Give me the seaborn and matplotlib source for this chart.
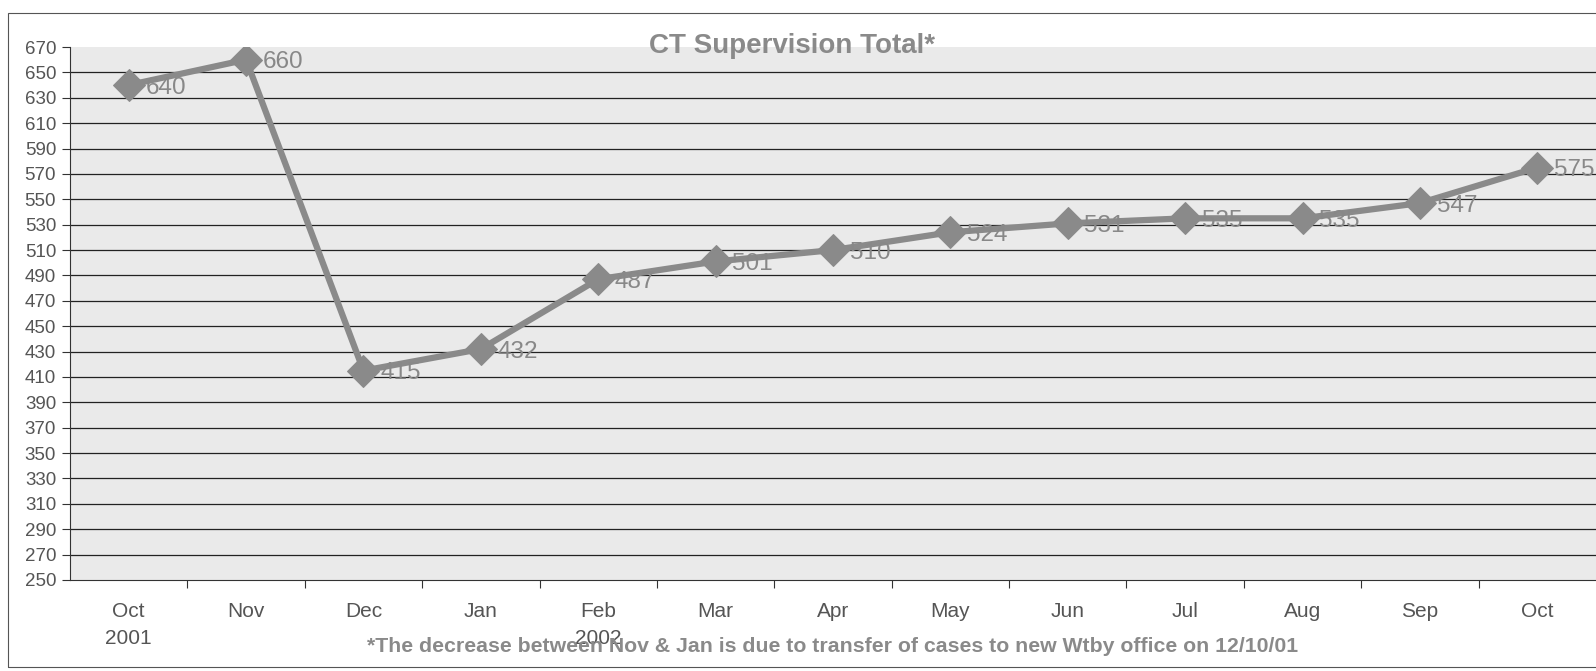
import numpy as np
import pandas as pd
import matplotlib
matplotlib.use("Agg")
import matplotlib.pyplot as plt
import seaborn as sns
from matplotlib.patches import Rectangle

months = ["Oct\n2001", "Nov", "Dec", "Jan", "Feb\n2002", "Mar", "Apr",
          "May", "Jun", "Jul", "Aug", "Sep", "Oct"]
totals = [640, 660, 415, 432, 487, 501, 510, 524, 531, 535, 535, 547, 575]
y_ticks = list(range(250, 671, 20))

title = "CT Supervision Total*"
note = ("*The decrease between Nov & Jan is due to transfer of cases "
        "to new Wtby office on 12/10/01")

df = pd.DataFrame({"pos": np.arange(len(months)), "total": totals})

sns.set_style("white")
plt.rcParams['font.family'] = ['Liberation Sans', 'DejaVu Sans']

fig = plt.figure(figsize=(15.96, 6.71), dpi=100)
ax = fig.add_axes([70 / 1596, 1 - 580 / 671, 1 - 70 / 1596, (580 - 47) / 671])
ax.set_facecolor("#eaeaea")

# thin frame around the whole chart area
fig.patches.append(Rectangle((8 / 1596, 4 / 671), 1.2, 1 - 17 / 671,
                             transform=fig.transFigure, fill=False,
                             edgecolor="#555555", linewidth=0.8))

ax.set_ylim(250, 670)
ax.set_xlim(-0.5, len(months) - 0.5)
for v in y_ticks[1:-1]:
    ax.axhline(v, color="#222222", linewidth=0.9, zorder=1)

sns.lineplot(data=df, x="pos", y="total", ax=ax, color="#8a8a8a",
             linewidth=4.5, marker="D", markersize=16,
             markeredgecolor="#8a8a8a", zorder=3)

for x, v in zip(df["pos"], df["total"]):
    ax.annotate(str(v), (x, v), xytext=(12, -2), textcoords="offset points",
                ha="left", va="center", fontsize=17.5, color="#888888",
                zorder=4)

ax.set_yticks(y_ticks)
ax.set_yticklabels([str(v) for v in y_ticks])
ax.set_xticks(df["pos"])
ax.set_xticklabels(months, linespacing=1.55)
ax.set_xticks(np.arange(len(months) - 1) + 0.5, minor=True)
ax.tick_params(axis="x", which="major", length=0, pad=16,
               labelsize=15, labelcolor="#555555")
ax.tick_params(axis="x", which="minor", length=6, width=0.8,
               color="#333333", direction="out", bottom=True)
ax.tick_params(axis="y", length=6, width=0.8, color="#333333",
               direction="out", left=True, labelsize=13.5,
               labelcolor="#555555", pad=4)

for side in ["top", "right"]:
    ax.spines[side].set_visible(False)
ax.spines["left"].set_color("#333333")
ax.spines["bottom"].set_color("#333333")
ax.set_xlabel("")
ax.set_ylabel("")

fig.text(792 / 1596, 1 - 46 / 671, title, ha="center", va="center",
         fontsize=20, fontweight="bold", color="#8a8a8a")
fig.text(833 / 1596, 1 - 647 / 671, note, ha="center", va="center",
         fontsize=15.3, fontweight="bold", color="#8a8a8a")

fig.savefig("out.png", dpi=100)
